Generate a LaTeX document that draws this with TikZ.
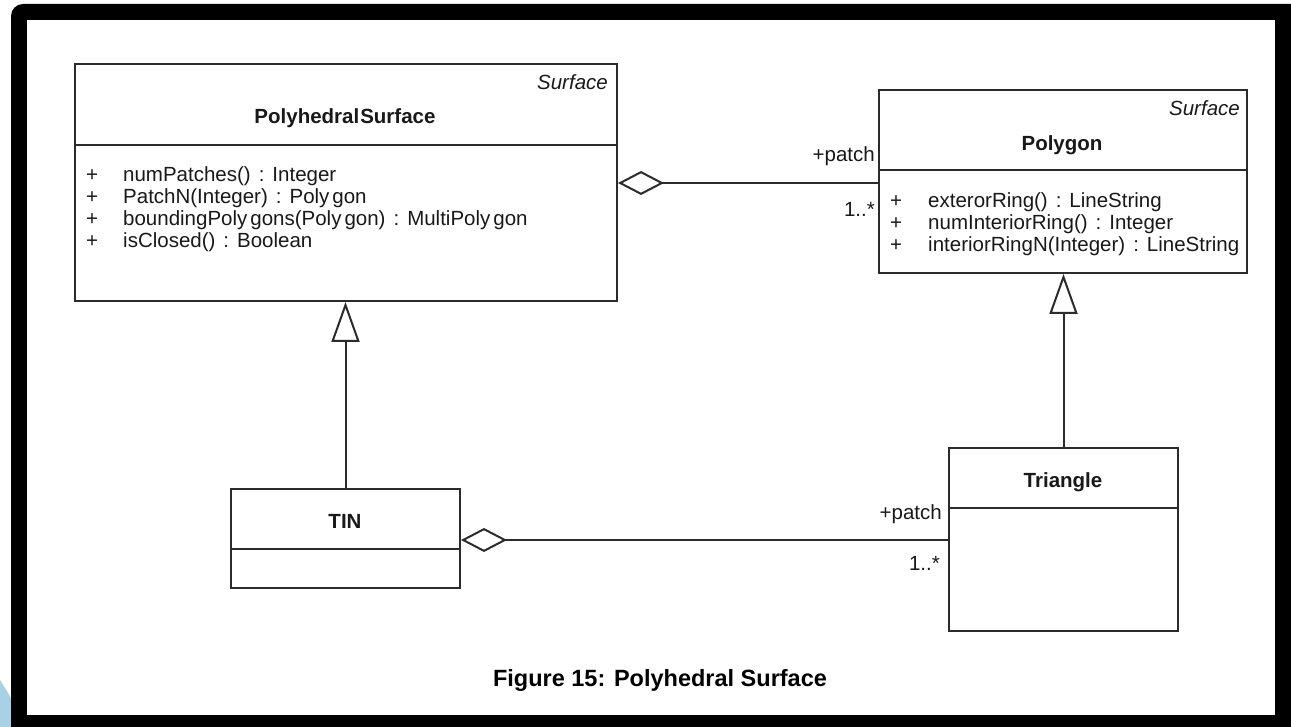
\documentclass[tikz,border=0pt]{standalone}
\usepackage{fontspec}
\setmainfont{Liberation Sans}
\usetikzlibrary{arrows.meta,calc}
\definecolor{ink}{HTML}{2B2B2B}
\definecolor{swoosh}{RGB}{170,208,230}
\tikzset{
  umlbox/.style={draw=ink, line width=2pt, fill=white, inner sep=0pt},
  umlline/.style={draw=ink, line width=2pt},
  attr/.style={anchor=base west, inner sep=0pt, text=black!90,
    font=\fontsize{20.5}{22}\selectfont},
  plus/.style={anchor=base, inner sep=0pt, text=black!90,
    font=\fontsize{20.5}{22}\selectfont},
  title/.style={anchor=base, inner sep=0pt, text=black!90,
    font=\fontsize{20.5}{22}\selectfont\bfseries},
  stereo/.style={anchor=base east, inner sep=0pt, text=black!90,
    font=\fontsize{20.5}{22}\selectfont\itshape},
  role/.style={anchor=base east, inner sep=0pt, text=black!90,
    font=\fontsize{20.5}{22}\selectfont},
  agg/.style={umlline, {Diamond[open, length=46pt, width=24pt, line width=2pt]}-},
  gen/.style={umlline, -{Triangle[open, length=40pt, width=28pt, line width=2pt]}},
}
\newcommand{\sep}{\hspace{8pt}:\hspace{8pt}}
\begin{document}
\begin{tikzpicture}[x=1pt, y=-1pt]
\useasboundingbox (0,0) rectangle (1291,727);
% page frame
\fill[swoosh] (0,680) .. controls (5,688) and (9,694) .. (12,700) -- (12,727) -- (0,727) -- cycle;
\fill[black, rounded corners=12pt] (11,4) rectangle (1310,745);
\fill[white] (27,20) rectangle (1275,715);

% PolyhedralSurface
\node[umlbox, minimum width=542pt, minimum height=237pt, anchor=north west] (ps) at (74,63) {};
\draw[umlline] ($(ps.north west)+(0,82)$) -- ($(ps.north east)+(0,82)$);
\node[stereo] (psst) at (608,90) {Surface};
\node[title] (pst) at (345,124) {Polyhedral\kern1pt Surface};
\foreach \y/\t [count=\i] in {182/{numPatches()\sep Integer},
  204/{PatchN(Integer)\sep Poly\kern3pt gon},
  226/{boundingPoly\kern3pt gons(Poly\kern3pt gon)\sep MultiPoly\kern3pt gon},
  248/{isClosed()\sep Boolean}}{
  \node[plus] (psp\i) at (92,\y) {+};
  \node[attr] (psa\i) at (123,\y) {\t};
}

% Polygon
\node[umlbox, minimum width=368pt, minimum height=183pt, anchor=north west] (pg) at (878,89) {};
\draw[umlline] ($(pg.north west)+(0,81)$) -- ($(pg.north east)+(0,81)$);
\node[stereo] (pgst) at (1240,116) {Surface};
\node[title] (pgt) at (1062,151) {Polygon};
\foreach \y/\t [count=\i] in {208/{exterorRing()\sep LineString},
  230/{numInteriorRing()\sep Integer},
  252/{interiorRingN(Integer)\sep LineString}}{
  \node[plus] (pgp\i) at (896,\y) {+};
  \node[attr] (pga\i) at (928,\y) {\t};
}

% TIN
\node[umlbox, minimum width=229pt, minimum height=99pt, anchor=north west] (tin) at (230,488) {};
\draw[umlline] ($(tin.north west)+(0,61)$) -- ($(tin.north east)+(0,61)$);
\node[title] (tint) at (345,528) {TIN};

% Triangle
\node[umlbox, minimum width=229pt, minimum height=183pt, anchor=north west] (tri) at (948,447) {};
\draw[umlline] ($(tri.north west)+(0,61)$) -- ($(tri.north east)+(0,61)$);
\node[title] (trit) at (1063,487) {Triangle};

% generalizations
\draw[gen] (tin.north) -- (tin.north |- ps.south);
\draw[gen] (tri.north) -- (tri.north |- pg.south);

% aggregations
\coordinate (agg1) at ($(ps.north east)+(0,120)$);
\draw[agg] (agg1) -- (agg1 -| pg.west);
\node[role] (r1) at (875,162) {+patch};
\node[role] (m1) at (875,217) {1..*};

\coordinate (agg2) at ($(tin.north east)+(0,52)$);
\draw[agg] (agg2) -- (agg2 -| tri.west);
\node[role] (r2) at (942,519) {+patch};
\node[role] (m2) at (940,570) {1..*};

% caption
\node[inner sep=0pt, font=\fontsize{23.5}{26}\selectfont\bfseries] (cap) at (660,680) {Figure 15: Polyhedral Surface};
\end{tikzpicture}
\end{document}
